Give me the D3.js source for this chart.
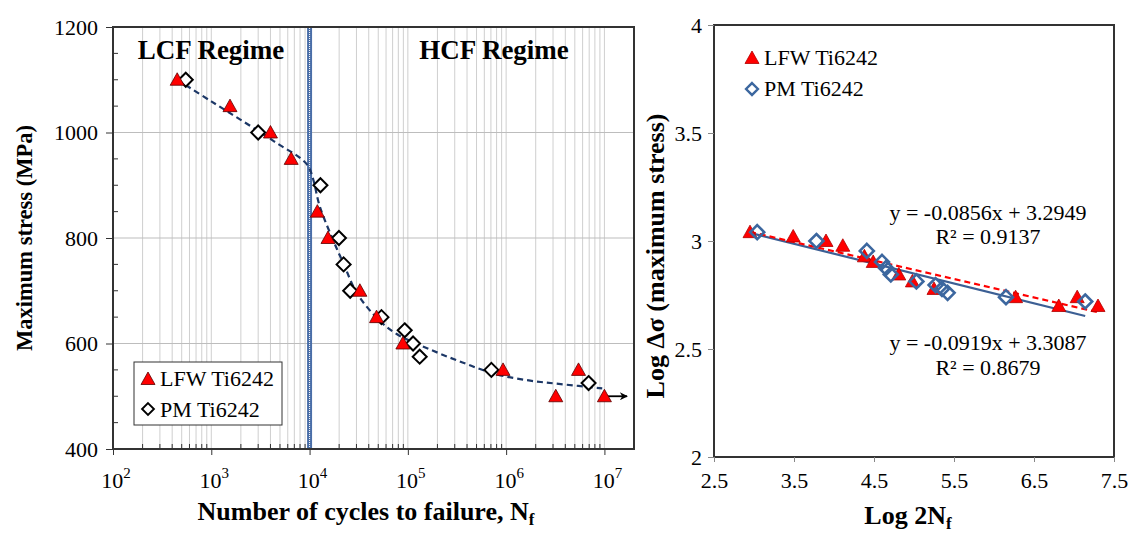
<!DOCTYPE html>
<html lang="en">
<head>
  <meta charset="UTF-8">
  <title>S-N curves, LFW and PM Ti6242</title>
  <script src="https://d3js.org/d3.v7.min.js"></script>
  <style>
    body, html {
      margin: 0;
      padding: 0;
      background: #fff;
    }
    svg {
      display: block;
    }
    svg text {
      font-family: "Liberation Serif", "Times New Roman", serif;
      fill: #000;
    }
    .tick-label {
      font-size: 22px;
    }
    .axis-title {
      font-size: 22.5px;
      font-weight: bold;
    }
    .axis-title.big {
      font-size: 26px;
    }
    .legend-text {
      font-size: 22px;
    }
    .regime {
      font-size: 27px;
      font-weight: bold;
    }
    .eq {
      font-size: 22px;
      text-anchor: middle;
    }
  </style>
</head>
<body>
  <svg width="1131" height="534"></svg>

  <script>
    // ---- left chart: S-N data ----
    const lfwCycles = [450, 1550, 4000, 6500, 12000, 15400, 32500, 48000, 89000, 930000, 3200000, 5450000, 10000000];
    const lfwStress = [1100, 1050, 1000, 950, 850, 800, 700, 650, 600, 550, 500, 550, 500];
    const pmCycles = [550, 3000, 12900, 19900, 22200, 25900, 53900, 92900, 113000, 132000, 708000, 6900000];
    const pmStress = [1100, 1000, 900, 800, 750, 700, 650, 625, 600, 575, 550, 525];

    // dashed trend curve
    const curveCycles = [450, 1000, 3000, 5000, 8000, 9700, 10900, 12700, 18700, 22000, 30000, 48000, 77000, 167000, 360000, 780000, 1700000, 3600000, 9500000];
    const curveStress = [1100, 1059, 1003, 976, 952, 936, 911, 860, 782, 753, 697, 649, 618, 589, 564, 542, 530, 523, 515];
    const arrowCycles = [10000000, 17000000];
    const arrowStress = [500, 500];

    const cycleDecades = [2, 3, 4, 5, 6, 7];
    const stressTicks = [400, 600, 800, 1000, 1200];
    const regimeLimit = 10000;

    // ---- right chart: log-log data ----
    const lfwLog2N = [2.95, 3.49, 3.90, 4.11, 4.38, 4.49, 4.81, 4.98, 5.25, 6.27, 6.81, 7.04, 7.30];
    const lfwLogS = [3.041, 3.021, 3.0, 2.978, 2.929, 2.903, 2.845, 2.813, 2.778, 2.740, 2.699, 2.740, 2.699];
    const pmLog2N = [3.04, 3.78, 4.41, 4.60, 4.65, 4.71, 5.03, 5.27, 5.35, 5.42, 6.15, 7.14];
    const pmLogS = [3.041, 3.0, 2.954, 2.903, 2.875, 2.845, 2.813, 2.796, 2.778, 2.760, 2.740, 2.720];

    const fitNames = ["LFW", "PM"];
    const fitSlopes = [-0.0856, -0.0919];
    const fitIntercepts = [3.2949, 3.3087];
    const fitR2 = ["0.9137", "0.8679"];
    const fitXRange = [[2.95, 7.30], [2.95, 7.14]];

    const logXTicks = [2.5, 3.5, 4.5, 5.5, 6.5, 7.5];
    const logYTicks = [2, 2.5, 3, 3.5, 4];

    const svg = d3.select("svg");

    const triPath = "M0,-7L7,5.5L-7,5.5Z";
    const diaPath = "M0,-7L7,0L0,7L-7,0Z";

    // d3 axes put their own font attributes on the group; drop them so the CSS wins
    function cleanAxis(g, tickColor) {
      g.attr("font-family", null).attr("font-size", null);
      g.select(".domain").remove();
      g.selectAll(".tick line").attr("stroke", tickColor);
      g.selectAll(".tick text").attr("class", "tick-label").attr("fill", null);
    }

    // ================= LEFT CHART =================
    const x1 = d3.scaleLog().domain([100, 2e7]).range([113, 634]);
    const y1 = d3.scaleLinear().domain([400, 1200]).range([449, 27]);

    const left = svg.append("g");

    // vertical grid, every 1..9 x 10^k
    const minorX = [];
    for (let k = 2; k <= 7; k++) {
      for (let m = 1; m <= 9; m++) {
        const v = m * Math.pow(10, k);
        if (v <= 2e7) minorX.push(v);
      }
    }
    left.append("g").selectAll("line")
      .data(minorX)
      .enter().append("line")
      .attr("x1", d => x1(d)).attr("x2", d => x1(d))
      .attr("y1", y1(400)).attr("y2", y1(1200))
      .attr("stroke", "#cfcfcf")
      .attr("stroke-width", 1);

    // horizontal grid at majors
    left.append("g").selectAll("line")
      .data(stressTicks.slice(1, -1))
      .enter().append("line")
      .attr("x1", x1.range()[0]).attr("x2", x1.range()[1])
      .attr("y1", d => y1(d)).attr("y2", d => y1(d))
      .attr("stroke", "#bdbdbd")
      .attr("stroke-width", 1.2);

    // LCF / HCF divider
    left.append("line")
      .attr("x1", x1(regimeLimit)).attr("x2", x1(regimeLimit))
      .attr("y1", y1(400)).attr("y2", y1(1200))
      .attr("stroke", "#4a6ea8")
      .attr("stroke-width", 5);
    left.append("line")
      .attr("x1", x1(regimeLimit)).attr("x2", x1(regimeLimit))
      .attr("y1", y1(400)).attr("y2", y1(1200))
      .attr("stroke", "#fff")
      .attr("stroke-width", 1)
      .attr("stroke-dasharray", "1,1");

    // frame
    left.append("rect")
      .attr("x", x1.range()[0]).attr("y", y1(1200))
      .attr("width", x1.range()[1] - x1.range()[0])
      .attr("height", y1(400) - y1(1200))
      .attr("fill", "none")
      .attr("stroke", "#333")
      .attr("stroke-width", 2);

    // x axis: major ticks outward, minor inward
    const xAxisG = left.append("g")
      .attr("transform", `translate(0,${y1(400)})`)
      .call(d3.axisBottom(x1)
        .tickValues(cycleDecades.map(k => Math.pow(10, k)))
        .tickSize(6)
        .tickFormat(""));
    cleanAxis(xAxisG, "#333");
    left.append("g").selectAll("line")
      .data(minorX.filter(v => !cycleDecades.includes(Math.round(Math.log10(v) * 1000) / 1000)))
      .enter().append("line")
      .attr("x1", d => x1(d)).attr("x2", d => x1(d))
      .attr("y1", y1(400)).attr("y2", y1(400) - 5)
      .attr("stroke", "#333");

    const xLabels = left.append("g").selectAll("text")
      .data(cycleDecades)
      .enter().append("text")
      .attr("class", "tick-label")
      .attr("x", d => x1(Math.pow(10, d)) + 3)
      .attr("y", 488)
      .attr("text-anchor", "middle");
    xLabels.append("tspan").text("10");
    xLabels.append("tspan")
      .attr("dy", -10)
      .style("font-size", "15px")
      .text(d => d);

    // y axis
    const yAxisG = left.append("g")
      .attr("transform", `translate(${x1.range()[0]},0)`)
      .call(d3.axisLeft(y1).tickValues(stressTicks).tickSize(7).tickPadding(8).tickFormat(d3.format("d")));
    cleanAxis(yAxisG, "#333");
    left.append("g").selectAll("line")
      .data(d3.range(450, 1200, 50).filter(v => v % 200 !== 0))
      .enter().append("line")
      .attr("x1", x1.range()[0]).attr("x2", x1.range()[0] + 5)
      .attr("y1", d => y1(d)).attr("y2", d => y1(d))
      .attr("stroke", "#333");

    // axis titles
    const xt = left.append("text")
      .attr("class", "axis-title big")
      .attr("x", 366)
      .attr("y", 520)
      .attr("text-anchor", "middle");
    xt.append("tspan").text("Number of cycles to failure, N");
    xt.append("tspan").attr("dy", 5).style("font-size", "17px").text("f");

    left.append("text")
      .attr("class", "axis-title")
      .attr("transform", `translate(32,${(y1(400) + y1(1200)) / 2}) rotate(-90)`)
      .attr("text-anchor", "middle")
      .text("Maximum stress (MPa)");

    left.append("text").attr("class", "regime")
      .attr("x", 211).attr("y", 59).attr("text-anchor", "middle")
      .text("LCF Regime");
    left.append("text").attr("class", "regime")
      .attr("x", 494).attr("y", 59).attr("text-anchor", "middle")
      .text("HCF Regime");

    // dashed trend curve
    const curveData = curveCycles.map((c, i) => ({ n: c, s: curveStress[i] }));
    left.append("path")
      .datum(curveData)
      .attr("fill", "none")
      .attr("stroke", "#1c3766")
      .attr("stroke-width", 2.2)
      .attr("stroke-dasharray", "6,4")
      .attr("d", d3.line().x(d => x1(d.n)).y(d => y1(d.s)).curve(d3.curveCatmullRom));

    // arrow
    svg.append("defs").append("marker")
      .attr("id", "arrowhead")
      .attr("viewBox", "0 0 10 10")
      .attr("refX", 9).attr("refY", 5)
      .attr("markerWidth", 11).attr("markerHeight", 8)
      .attr("markerUnits", "userSpaceOnUse")
      .attr("orient", "auto")
      .append("path").attr("d", "M0,0L10,5L0,10L3,5Z").attr("fill", "#000");
    left.append("line")
      .attr("x1", x1(arrowCycles[0])).attr("x2", x1(arrowCycles[1]))
      .attr("y1", y1(arrowStress[0])).attr("y2", y1(arrowStress[1]))
      .attr("stroke", "#000").attr("stroke-width", 1.8)
      .attr("marker-end", "url(#arrowhead)");

    // markers
    left.append("g").selectAll("path")
      .data(pmCycles.map((c, i) => [c, pmStress[i]]))
      .enter().append("path")
      .attr("d", diaPath)
      .attr("transform", d => `translate(${x1(d[0])},${y1(d[1])})`)
      .attr("fill", "#fff").attr("stroke", "#000").attr("stroke-width", 2);
    left.append("g").selectAll("path")
      .data(lfwCycles.map((c, i) => [c, lfwStress[i]]))
      .enter().append("path")
      .attr("d", triPath)
      .attr("transform", d => `translate(${x1(d[0])},${y1(d[1])})`)
      .attr("fill", "#ff0000").attr("stroke", "#5a0000").attr("stroke-width", 0.8);

    // legend box
    const lg = left.append("g");
    lg.append("rect")
      .attr("x", 134).attr("y", 362).attr("width", 148).attr("height", 63)
      .attr("fill", "#fff").attr("stroke", "#333").attr("stroke-width", 1);
    lg.append("path").attr("d", triPath).attr("transform", "translate(148,379)")
      .attr("fill", "#ff0000").attr("stroke", "#5a0000").attr("stroke-width", 0.8);
    lg.append("text").attr("class", "legend-text").attr("x", 160).attr("y", 386).text("LFW Ti6242");
    lg.append("path").attr("d", diaPath).attr("transform", "translate(148,409) scale(0.85)")
      .attr("fill", "#fff").attr("stroke", "#000").attr("stroke-width", 2.2);
    lg.append("text").attr("class", "legend-text").attr("x", 160).attr("y", 417).text("PM Ti6242");

    // ================= RIGHT CHART =================
    const x2 = d3.scaleLinear().domain([2.5, 7.5]).range([714, 1114]);
    const y2 = d3.scaleLinear().domain([2, 4]).range([457, 25]);
    const right = svg.append("g");

    right.append("rect")
      .attr("x", x2.range()[0]).attr("y", y2(4))
      .attr("width", x2.range()[1] - x2.range()[0])
      .attr("height", y2(2) - y2(4))
      .attr("fill", "none")
      .attr("stroke", "#333")
      .attr("stroke-width", 2);

    const x2Axis = right.append("g")
      .attr("transform", `translate(0,${y2(2)})`)
      .call(d3.axisBottom(x2).tickValues(logXTicks).tickSize(5).tickPadding(10).tickFormat(d3.format(".1f")));
    cleanAxis(x2Axis, "#888");

    const y2Axis = right.append("g")
      .attr("transform", `translate(${x2.range()[0]},0)`)
      .call(d3.axisLeft(y2).tickValues(logYTicks).tickSize(6).tickPadding(6).tickFormat(d => String(d)));
    cleanAxis(y2Axis, "#888");

    const xt2 = right.append("text")
      .attr("class", "axis-title big")
      .attr("x", 908).attr("y", 524)
      .attr("text-anchor", "middle");
    xt2.append("tspan").text("Log 2N");
    xt2.append("tspan").attr("dy", 5).style("font-size", "17px").text("f");

    right.append("text")
      .attr("class", "axis-title big")
      .attr("transform", `translate(664,256) rotate(-90)`)
      .attr("text-anchor", "middle")
      .text("Log Δσ (maximum stress)");

    // trendlines
    const fitStyle = [
      { stroke: "#ff0000", dash: "6,4", width: 2.2 },
      { stroke: "#3c5f94", dash: null, width: 2.2 }
    ];
    // PM solid first, LFW dashed on top
    [1, 0].forEach(i => {
      const xs = fitXRange[i];
      right.append("line")
        .attr("x1", x2(xs[0])).attr("x2", x2(xs[1]))
        .attr("y1", y2(fitSlopes[i] * xs[0] + fitIntercepts[i]))
        .attr("y2", y2(fitSlopes[i] * xs[1] + fitIntercepts[i]))
        .attr("stroke", fitStyle[i].stroke)
        .attr("stroke-width", fitStyle[i].width)
        .attr("stroke-dasharray", fitStyle[i].dash);
    });

    right.append("g").selectAll("path")
      .data(lfwLog2N.map((v, i) => [v, lfwLogS[i]]))
      .enter().append("path")
      .attr("d", triPath)
      .attr("transform", d => `translate(${x2(d[0])},${y2(d[1])})`)
      .attr("fill", "#ff0000").attr("stroke", "#b00000").attr("stroke-width", 0.8);
    right.append("g").selectAll("path")
      .data(pmLog2N.map((v, i) => [v, pmLogS[i]]))
      .enter().append("path")
      .attr("d", diaPath)
      .attr("transform", d => `translate(${x2(d[0])},${y2(d[1])})`)
      .attr("fill", "none").attr("stroke", "#3c679f").attr("stroke-width", 2.6);

    // equations
    const eqY = [[220, 244], [350, 375]];
    fitNames.forEach((n, i) => {
      const b = fitIntercepts[i].toFixed(4);
      right.append("text").attr("class", "eq")
        .attr("x", 988).attr("y", eqY[i][0])
        .text(`y = ${fitSlopes[i].toFixed(4)}x + ${b}`);
      right.append("text").attr("class", "eq")
        .attr("x", 988).attr("y", eqY[i][1])
        .text(`R² = ${fitR2[i]}`);
    });

    // legend
    right.append("path").attr("d", triPath).attr("transform", "translate(752,58)")
      .attr("fill", "#ff0000").attr("stroke", "#b00000").attr("stroke-width", 0.8);
    right.append("text").attr("class", "legend-text").attr("x", 764).attr("y", 65).text("LFW Ti6242");
    right.append("path").attr("d", diaPath).attr("transform", "translate(752,89) scale(0.85)")
      .attr("fill", "none").attr("stroke", "#3c679f").attr("stroke-width", 2.8);
    right.append("text").attr("class", "legend-text").attr("x", 764).attr("y", 96).text("PM Ti6242");
  </script>
</body>
</html>
